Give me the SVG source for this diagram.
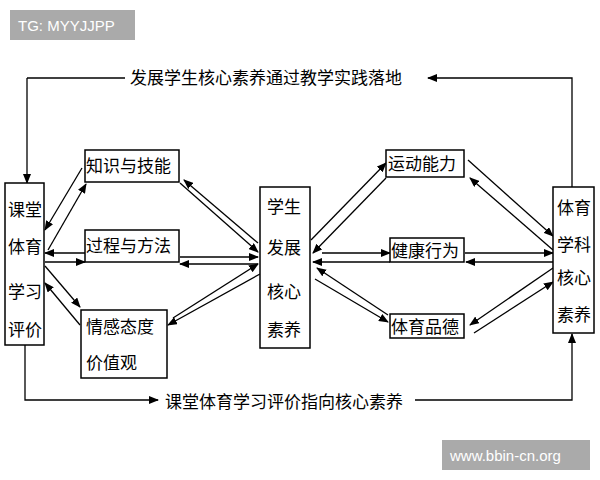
<svg xmlns="http://www.w3.org/2000/svg" width="600" height="480" viewBox="0 0 600 480">
<style>
.b{fill:#fff;stroke:#000;stroke-width:1.5}
.t{font-family:"Noto Sans CJK SC","Liberation Sans",sans-serif;font-size:17px;fill:#000}
.c line,.c path{stroke:#000;stroke-width:1.3;fill:none;marker-end:url(#a)}
.c .n{marker-end:none}
.w{font-family:"Liberation Sans",sans-serif;font-size:15px;fill:#fff}
</style>
<defs><marker id="a" markerWidth="10" markerHeight="8" refX="9" refY="4" orient="auto" markerUnits="userSpaceOnUse"><path d="M0,0L10,4L0,8z" fill="#000"/></marker></defs>
<rect width="600" height="480" fill="#fff"/>
<g class="c">
<path d="M572,187V78H428"/>
<path class="n" d="M125,78H27"/>
<line x1="27" y1="78" x2="27" y2="183"/>
<path d="M25,345V400H158"/>
<path d="M415,400H572V334"/>
<line x1="82" y1="168" x2="45" y2="230"/>
<line x1="48" y1="250" x2="86" y2="184"/>
<line x1="85" y1="253" x2="45" y2="253"/>
<line x1="45" y1="262" x2="85" y2="262"/>
<line x1="45" y1="266" x2="80" y2="307"/>
<line x1="80" y1="325" x2="45" y2="283"/>
<line x1="180" y1="183" x2="258" y2="252"/>
<line x1="258" y1="243" x2="184" y2="180"/>
<line x1="180" y1="257" x2="258" y2="257"/>
<line x1="258" y1="264" x2="180" y2="264"/>
<line x1="173" y1="318" x2="258" y2="264"/>
<line x1="260" y1="274" x2="168" y2="325"/>
<line x1="311" y1="240" x2="386" y2="163"/>
<line x1="386" y1="178" x2="313" y2="253"/>
<line x1="322" y1="253" x2="390" y2="253"/>
<line x1="390" y1="262" x2="313" y2="262"/>
<line x1="465" y1="253" x2="553" y2="253"/>
<line x1="553" y1="262" x2="466" y2="262"/>
<line x1="315" y1="279" x2="388" y2="322"/>
<line x1="388" y1="315" x2="317" y2="268"/>
<line x1="468" y1="160" x2="553" y2="236"/>
<line x1="553" y1="250" x2="470" y2="178"/>
<line x1="553" y1="268" x2="470" y2="325"/>
<line x1="474" y1="333" x2="553" y2="282"/>
</g>
<g id="top"><text class="t" x="130" y="84">发展学生核心素养通过教学实践落地</text></g>
<g id="bottom"><text class="t" x="165" y="408">课堂体育学习评价指向核心素养</text></g>
<g id="left"><rect class="b" x="5" y="183" width="39" height="162"/>
<text class="t" x="8" y="216">课堂</text><text class="t" x="8" y="253">体育</text><text class="t" x="8" y="298">学习</text><text class="t" x="8" y="336">评价</text></g>
<g id="zs"><rect class="b" x="85" y="150" width="94" height="32"/><text class="t" x="86" y="172">知识与技能</text></g>
<g id="gc"><rect class="b" x="85" y="230" width="94" height="32"/><text class="t" x="86" y="252">过程与方法</text></g>
<g id="qg"><rect class="b" x="81" y="310" width="86" height="68"/><text class="t" x="86" y="333">情感态度</text><text class="t" x="86" y="369">价值观</text></g>
<g id="center"><rect class="b" x="260" y="187" width="50" height="161"/>
<text class="t" x="267" y="213">学生</text><text class="t" x="267" y="254">发展</text><text class="t" x="267" y="298">核心</text><text class="t" x="267" y="336">素养</text></g>
<g id="yd"><rect class="b" x="386" y="150" width="78" height="27"/><text class="t" x="388" y="170">运动能力</text></g>
<g id="jk"><rect class="b" x="390" y="238" width="74" height="24"/><text class="t" x="391" y="257">健康行为</text></g>
<g id="pd"><rect class="b" x="390" y="314" width="74" height="24"/><text class="t" x="391" y="333">体育品德</text></g>
<g id="right"><rect class="b" x="553" y="187" width="41" height="146"/>
<text class="t" x="557" y="214">体育</text><text class="t" x="557" y="251">学科</text><text class="t" x="557" y="284">核心</text><text class="t" x="557" y="321">素养</text></g>
<rect x="10" y="10" width="125" height="30" fill="#aaa"/><text class="w" x="18" y="31">TG: MYYJJPP</text>
<rect x="442" y="440" width="148" height="30" fill="#aaa"/><text class="w" x="450" y="461">www.bbin-cn.org</text>
</svg>
